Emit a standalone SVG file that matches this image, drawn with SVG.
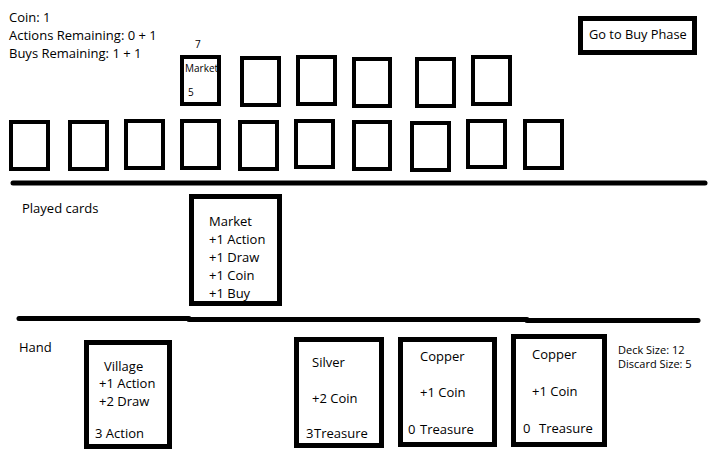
<svg xmlns="http://www.w3.org/2000/svg" width="715" height="463" viewBox="0 0 715 463">
<style>
text{font-family:"Open Sans","Noto Sans","DejaVu Sans",sans-serif;font-size:13px;fill:#000}
.sm{font-size:10px}
.md{font-size:11px}
.card{fill:#fff;stroke:#000;stroke-width:4}
.big{fill:#fff;stroke:#000;stroke-width:5}
.line{stroke:#000;stroke-width:5;stroke-linecap:round;fill:none}
</style>
<rect width="715" height="463" fill="#fff"/>
<g id="status">
<text x="9" y="22">Coin: 1</text>
<text x="9" y="40">Actions Remaining: 0 + 1</text>
<text x="9" y="58">Buys Remaining: 1 + 1</text>
</g>
<g id="buy-button">
<rect class="big" x="580.5" y="18.5" width="114" height="34"/>
<text x="589" y="39" style="font-size:12.8px">Go to Buy Phase</text>
</g>
<g id="supply-top">
<g id="s-market"><rect class="card" x="182" y="57" width="37" height="47"/>
<text class="sm" x="195" y="48">7</text>
<text class="sm" x="185" y="72">Market</text>
<text class="sm" x="188" y="96">5</text></g>
<g id="s2"><rect class="card" x="242" y="58" width="37" height="47"/></g>
<g id="s3"><rect class="card" x="298" y="57" width="37" height="47"/></g>
<g id="s4"><rect class="card" x="354" y="59" width="36" height="47"/></g>
<g id="s5"><rect class="card" x="417" y="59" width="37" height="47"/></g>
<g id="s6"><rect class="card" x="473" y="57" width="37" height="47"/></g>
</g>
<g id="supply-bottom">
<g id="b1"><rect class="card" x="11" y="122" width="37" height="47"/></g>
<g id="b2"><rect class="card" x="70" y="122" width="37" height="47"/></g>
<g id="b3"><rect class="card" x="126" y="121" width="37" height="47"/></g>
<g id="b4"><rect class="card" x="182" y="121" width="37" height="47"/></g>
<g id="b5"><rect class="card" x="240" y="122" width="37" height="47"/></g>
<g id="b6"><rect class="card" x="296" y="121" width="37" height="46"/></g>
<g id="b7"><rect class="card" x="354" y="122" width="36" height="47"/></g>
<g id="b8"><rect class="card" x="412" y="123" width="37" height="47"/></g>
<g id="b9"><rect class="card" x="468" y="121" width="37" height="46"/></g>
<g id="b10"><rect class="card" x="525" y="121" width="37" height="47"/></g>
</g>
<g id="connectors">
<line class="line" x1="13" y1="183" x2="705" y2="183"/>
<line class="line" x1="19" y1="318.5" x2="189" y2="318.5"/>
<line class="line" x1="189" y1="319.5" x2="527" y2="319.5"/>
<line class="line" x1="527" y1="320.5" x2="698" y2="320.5"/>
</g>
<g id="played-label"><text x="22" y="213">Played cards</text></g>
<g id="played-market">
<rect class="big" x="191.5" y="196.5" width="88" height="107" stroke-width="6"/>
<text x="209" y="226">Market</text>
<text x="209" y="244">+1 Action</text>
<text x="209" y="262">+1 Draw</text>
<text x="209" y="280">+1 Coin</text>
<text x="209" y="298">+1 Buy</text>
</g>
<g id="hand-label"><text x="19" y="352">Hand</text></g>
<g id="hand-village">
<rect class="big" x="86.5" y="342.5" width="83" height="104"/>
<text x="104" y="371">Village</text>
<text x="99" y="388">+1 Action</text>
<text x="99" y="406">+2 Draw</text>
<text x="95" y="438">3 Action</text>
</g>
<g id="hand-silver">
<rect class="big" x="296.5" y="339.5" width="85" height="106"/>
<text x="312" y="367">Silver</text>
<text x="312" y="403">+2 Coin</text>
<text x="306" y="438">3<tspan x="314">Treasure</tspan></text>
</g>
<g id="hand-copper1">
<rect class="big" x="400.5" y="339.5" width="94" height="105"/>
<text x="420" y="361">Copper</text>
<text x="420" y="397">+1 Coin</text>
<text x="408" y="434">0 <tspan x="420">Treasure</tspan></text>
</g>
<g id="hand-copper2">
<rect class="big" x="513.5" y="336.5" width="91" height="108"/>
<text x="532" y="359">Copper</text>
<text x="532" y="396">+1 Coin</text>
<text x="523" y="433">0 <tspan x="539">Treasure</tspan></text>
</g>
<g id="deck-info">
<text class="md" x="618" y="354">Deck Size: 12</text>
<text class="md" x="618" y="368">Discard Size: 5</text>
</g>
</svg>
